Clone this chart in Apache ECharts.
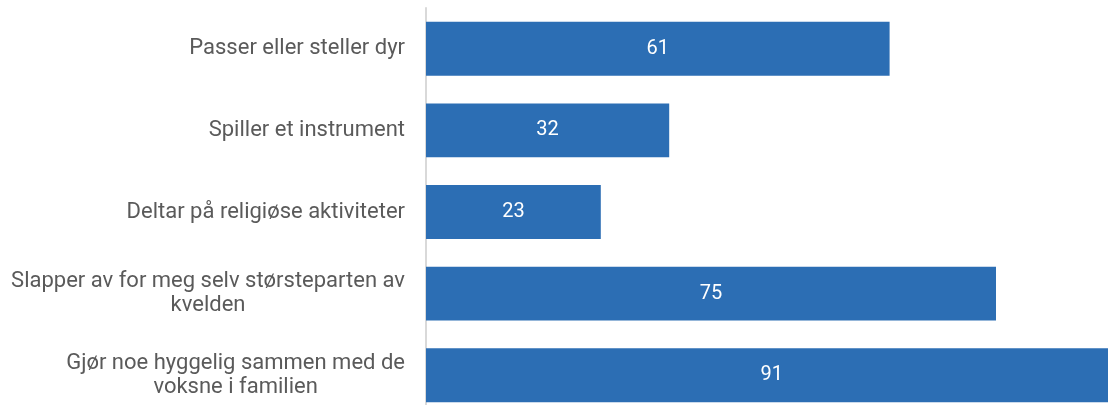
<!DOCTYPE html>
<html>
<head>
<meta charset="utf-8">
<script src="https://cdn.jsdelivr.net/npm/echarts@6/dist/echarts.min.js"></script>
<style>
  html, body { margin: 0; padding: 0; background: #fff; }
  #chart { width: 1108px; height: 405px; }
</style>
</head>
<body>
<div id="chart"></div>
<script>
// categories top to bottom
const categories = [
  'Passer eller steller dyr',
  'Spiller et instrument',
  'Deltar på religiøse aktiviteter',
  'Slapper av for meg selv størsteparten av\nkvelden',
  'Gjør noe hyggelig sammen med de\nvoksne i familien',
]
const values = [61, 32, 23, 75, 91]

const chart = echarts.init(document.getElementById('chart'))
chart.setOption({
  animation: false,
  grid: { left: 426, top: 8, width: 760, height: 408, outerBoundsMode: 'none', containLabel: false },
  xAxis: {
    type: 'value',
    min: 0,
    max: 100,
    show: false,
  },
  yAxis: {
    type: 'category',
    inverse: true,
    data: categories,
    axisTick: { show: false },
    axisLine: { show: true, lineStyle: { color: '#d9d9d9', width: 2 } },
    axisLabel: {
      margin: 21,
      align: 'right',
      // centre each line inside the label block
      formatter: v => v.split('\n').map(s => '{a|' + s + '}').join('\n'),
      rich: {
        a: {
          color: '#5a5a5a',
          fontSize: 22,
          fontFamily: 'Roboto',
          lineHeight: 24,
          align: 'center',
        },
      },
    },
  },
  series: [{
    type: 'bar',
    data: values,
    barCategoryGap: '34%',
    itemStyle: { color: '#2c6eb4' },
    label: {
      show: true,
      position: 'inside',
      color: '#fff',
      fontSize: 20,
      fontFamily: 'Roboto',
    },
  }],
})
</script>
</body>
</html>
